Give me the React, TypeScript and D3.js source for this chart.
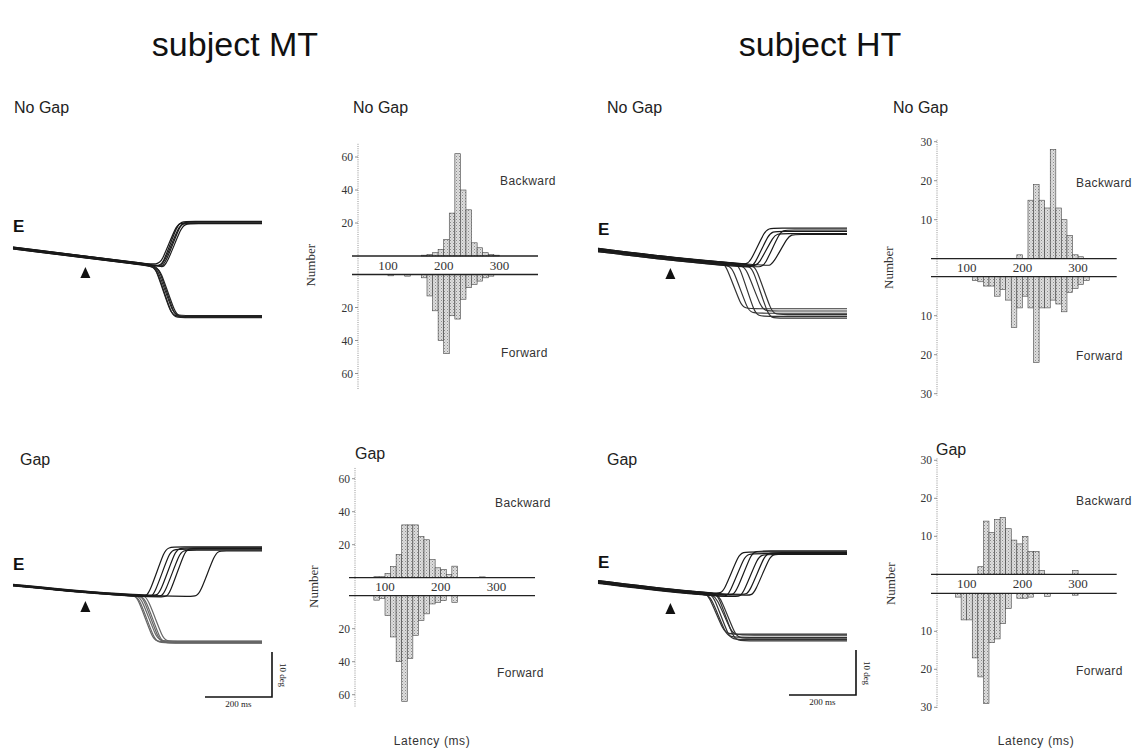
import React from "react";
import * as d3 from "d3";

// ---------- latency histograms: [bin start (ms), count], 10 ms bins ----------
const mtNoGapBackward: number[][] = [
  [160, 0.5], [170, 1], [180, 2], [190, 4], [200, 10], [210, 26], [220, 62],
  [230, 40], [240, 28], [250, 8], [260, 5], [270, 2], [280, 1], [290, 0.5],
];
const mtNoGapForward: number[][] = [
  [100, 0.8], [130, 1], [160, 2], [170, 13], [180, 22], [190, 40], [200, 48],
  [210, 25], [220, 27], [230, 15], [240, 8], [250, 6], [260, 4], [270, 2], [280, 1],
];
const htNoGapBackward: number[][] = [
  [190, 1], [210, 15], [220, 19], [230, 15], [240, 13], [250, 28], [260, 13],
  [270, 10], [280, 6], [290, 1], [300, 0.5],
];
const htNoGapForward: number[][] = [
  [110, 1], [120, 1.3], [130, 2.4], [140, 2.4], [150, 5], [160, 3.3], [170, 6],
  [180, 13], [190, 8], [200, 5], [210, 8], [220, 22], [230, 8], [240, 8],
  [250, 6], [260, 7], [270, 9], [280, 4], [290, 3], [300, 2], [310, 1],
];
const mtGapBackward: number[][] = [
  [80, 0.6], [90, 0.6], [100, 2.6], [110, 6.7], [120, 14], [130, 32], [140, 32],
  [150, 32], [160, 25], [170, 23], [180, 11], [190, 6], [200, 5], [210, 2],
  [220, 7], [270, 0.5],
];
const mtGapForward: number[][] = [
  [80, 2.7], [90, 1.7], [100, 12], [110, 25], [120, 40], [130, 64], [140, 38],
  [150, 24], [160, 15], [170, 11], [180, 5], [190, 4], [200, 3], [220, 4],
];
const htGapBackward: number[][] = [
  [120, 2], [130, 14], [140, 11], [150, 14.4], [160, 15], [170, 12], [180, 9],
  [190, 8], [200, 10], [210, 6], [220, 6], [230, 1], [290, 1],
];
const htGapForward: number[][] = [
  [80, 1], [90, 7], [100, 7], [110, 17], [120, 22], [130, 29], [140, 13],
  [150, 12], [160, 8], [170, 4], [190, 1.3], [200, 1.3], [210, 1], [240, 0.8], [290, 0.5],
];
const latencyTicks = [100, 200, 300];

// ---------- eye position traces ----------
// drift before the saccade: [time ms, position deg]
const mtNoGapDrift: number[][] = [[-216, 4.0], [215, 0], [527, -0.6]];
const mtGapDrift: number[][] = [[-216, 2.4], [-15, 0.9], [164, 0], [527, -0.2]];
const htNoGapDrift: number[][] = [[-216, 3.5], [27, 1.3], [266, -0.2], [527, -0.6]];
const htGapDrift: number[][] = [[-216, 2.9], [-24, 1.1], [146, 0], [527, -0.2]];
// trials: [latency ms, end position deg, offset deg]
const mtNoGapUp: number[][] = [[225, 9.6, 0.2], [229, 9.9, -0.2], [233, 9.5, 0.1], [237, 9.8, 0], [241, 9.4, -0.1]];
const mtNoGapDown: number[][] = [[208, -11.2, 0.2], [211, -11.5, -0.1], [214, -11.0, 0], [218, -11.4, 0.15], [222, -11.3, -0.2]];
const mtGapUp: number[][] = [[190, 10.9, 0.1], [205, 10.4, -0.1], [222, 10.7, 0.2], [235, 10.2, 0], [250, 10.6, -0.15], [340, 10.0, 0]];
const mtGapDown: number[][] = [[155, -10.2, 0.1], [160, -10.4, -0.1], [166, -10.0, 0], [172, -10.3, 0.15], [178, -10.5, -0.1], [185, -10.1, 0]];
const htNoGapUp: number[][] = [[236, 8.4, 0.3], [248, 7.7, -0.3], [262, 7.2, 0.1], [280, 8.0, -0.1], [305, 7.0, 0.4]];
const htNoGapDown: number[][] = [[165, -9.5, 0.2], [185, -10.5, -0.3], [205, -11.2, 0.4], [225, -10.0, -0.1], [245, -11.6, 0], [255, -10.8, 0.3]];
const htGapUp: number[][] = [[158, 9.6, 0.3], [175, 9.2, -0.2], [195, 9.8, 0.1], [215, 9.0, -0.3], [235, 9.4, 0.2], [250, 9.1, 0]];
const htGapDown: number[][] = [[113, -8.7, 0.2], [120, -9.4, -0.2], [128, -9.9, 0.1], [136, -8.9, -0.1], [142, -10.2, 0.3], [148, -9.6, 0]];

const SANS = "'Liberation Sans', Arial, Helvetica, sans-serif";
const SERIF = "'Liberation Serif', 'Times New Roman', serif";
const T_DOMAIN = [-216, 527];
const SACC = 48;
const ROUND = 14;

const tracePanels = [
  { x0: 13, y0: 266, drift: mtNoGapDrift, up: mtNoGapUp, down: mtNoGapDown, downColor: "#222", eY: 232, arrowY: 267, label: "No Gap", labelX: 14, labelY: 113 },
  { x0: 13, y0: 596, drift: mtGapDrift, up: mtGapUp, down: mtGapDown, downColor: "#666", eY: 570, arrowY: 601, label: "Gap", labelX: 20, labelY: 465, bar: { x: 272, y: 697 } },
  { x0: 598, y0: 266, drift: htNoGapDrift, up: htNoGapUp, down: htNoGapDown, downColor: "#333", eY: 235, arrowY: 268, label: "No Gap", labelX: 607, labelY: 113 },
  { x0: 598, y0: 595, drift: htGapDrift, up: htGapUp, down: htGapDown, downColor: "#333", eY: 568, arrowY: 603, label: "Gap", labelX: 607, labelY: 465, bar: { x: 856, y: 695 } },
];

const histPanels = [
  { id: "h1", axisX: 358, x100: 388, up0: 256, low0: 274.5, ppu: 1.65, ticks: [20, 40, 60], axTop: 68, axBot: 70, back: mtNoGapBackward, fwd: mtNoGapForward, label: "No Gap", labelX: 353, labelY: 113, backPos: [500, 185], fwdPos: [501, 357], numberX: 315 },
  { id: "h2", axisX: 937, x100: 966.7, up0: 258.7, low0: 276.7, ppu: 3.9, ticks: [10, 20, 30], axTop: 30.5, axBot: 30.5, back: htNoGapBackward, fwd: htNoGapForward, label: "No Gap", labelX: 893, labelY: 113, backPos: [1076, 187], fwdPos: [1076, 360], numberX: 893 },
  { id: "h3", axisX: 355, x100: 385, up0: 577.7, low0: 595.7, ppu: 1.65, ticks: [20, 40, 60], axTop: 66.5, axBot: 67.5, back: mtGapBackward, fwd: mtGapForward, label: "Gap", labelX: 355, labelY: 459, backPos: [495, 507], fwdPos: [497, 677], numberX: 318 },
  { id: "h4", axisX: 937, x100: 966.7, up0: 574.3, low0: 593.3, ppu: 3.8, ticks: [10, 20, 30], axTop: 30.5, axBot: 30.5, back: htGapBackward, fwd: htGapForward, label: "Gap", labelX: 936, labelY: 455, backPos: [1076, 505], fwdPos: [1076, 675], numberX: 895 },
];

function TracePanel({ p }: { p: any }) {
  const x = d3.scaleLinear().domain(T_DOMAIN).range([p.x0, p.x0 + 249]);
  const y = d3.scaleLinear().domain([0, 10]).range([p.y0, p.y0 - 45]);
  const drift = d3.scaleLinear().domain(p.drift.map((d: number[]) => d[0])).range(p.drift.map((d: number[]) => d[1]));
  const line = d3.line<number[]>().x((d) => x(d[0])).y((d) => y(d[1])).curve(d3.curveBasis);

  // follow the drift until the saccade latency, then jump to the end position
  const build = ([lat, end, off]: number[]) => {
    const pts = p.drift.filter((d: number[]) => d[0] < lat - ROUND).map((d: number[]) => [d[0], d[1] + off]);
    pts.push(
      [lat - ROUND, drift(lat - ROUND) + off],
      [lat, drift(lat) + off],
      [lat + SACC, end],
      [lat + SACC + ROUND, end],
      [T_DOMAIN[1], end]
    );
    return line(pts) as string;
  };

  const ax = x(0);
  const barW = x(200) - x(0);
  const barH = y(0) - y(10);
  return (
    <g>
      <text x={p.labelX} y={p.labelY} fontFamily={SANS} fontSize={16} fill="#222">{p.label}</text>
      <text x={p.x0} y={p.eY} fontFamily={SANS} fontSize={17} fontWeight="bold" fill="#111">E</text>
      {p.down.map((d: number[], i: number) => (
        <path key={"d" + i} d={build(d)} fill="none" stroke={p.downColor} strokeWidth={1.2} />
      ))}
      {p.up.map((d: number[], i: number) => (
        <path key={"u" + i} d={build(d)} fill="none" stroke="#1a1a1a" strokeWidth={1.2} />
      ))}
      <path d={`M${ax},${p.arrowY}L${ax + 5},${p.arrowY + 11}L${ax - 5},${p.arrowY + 11}Z`} fill="#111" />
      {p.bar && (
        <g>
          <path d={`M${p.bar.x - barW},${p.bar.y}H${p.bar.x}V${p.bar.y - barH}`} fill="none" stroke="#111" strokeWidth={1.6} />
          <text x={p.bar.x - barW / 2} y={p.bar.y + 10} textAnchor="middle" fontFamily={SERIF} fontSize={9} fill="#222">200 ms</text>
          <text transform={`translate(${p.bar.x + 8},${p.bar.y - 22}) rotate(90)`} textAnchor="middle" fontFamily={SERIF} fontSize={9} fill="#222">10 deg</text>
        </g>
      )}
    </g>
  );
}

function Histogram({ h }: { h: any }) {
  const x = d3.scaleLinear().domain([100, 300]).range([h.x100, h.x100 + 111.4]);
  const yUp = d3.scaleLinear().domain([0, 10]).range([h.up0, h.up0 - 10 * h.ppu]);
  const yLow = d3.scaleLinear().domain([0, 10]).range([h.low0, h.low0 + 10 * h.ppu]);
  const mid = (h.up0 + h.low0) / 2;
  const x0 = h.axisX - 6;
  const x1 = h.x100 + 150;
  return (
    <g>
      <text x={h.labelX} y={h.labelY} fontFamily={SANS} fontSize={16} fill="#222">{h.label}</text>
      <line x1={h.axisX} x2={h.axisX} y1={yUp(h.axTop)} y2={yLow(h.axBot)} stroke="#777" strokeWidth={0.8} strokeDasharray="1,1.2" />
      {h.ticks.map((t: number) => (
        <g key={t}>
          <line x1={h.axisX - 3} x2={h.axisX} y1={yUp(t)} y2={yUp(t)} stroke="#777" strokeWidth={0.8} />
          <line x1={h.axisX - 3} x2={h.axisX} y1={yLow(t)} y2={yLow(t)} stroke="#777" strokeWidth={0.8} />
          <text x={h.axisX - 5} y={yUp(t) + 4} textAnchor="end" fontFamily={SERIF} fontSize={11.5} fill="#333">{t}</text>
          <text x={h.axisX - 5} y={yLow(t) + 4} textAnchor="end" fontFamily={SERIF} fontSize={11.5} fill="#333">{t}</text>
        </g>
      ))}
      {h.back.map(([b, c]: number[]) => (
        <rect key={"b" + b} x={x(b)} width={x(b + 10) - x(b)} y={yUp(c)} height={yUp(0) - yUp(c)}
          fill="url(#stipple)" stroke="#444" strokeWidth={0.6} />
      ))}
      {h.fwd.map(([b, c]: number[]) => (
        <rect key={"f" + b} x={x(b)} width={x(b + 10) - x(b)} y={yLow(0)} height={yLow(c) - yLow(0)}
          fill="url(#stipple)" stroke="#444" strokeWidth={0.6} />
      ))}
      <line x1={x0} x2={x1} y1={h.up0} y2={h.up0} stroke="#222" strokeWidth={1.3} />
      <line x1={x0} x2={x1} y1={h.low0} y2={h.low0} stroke="#222" strokeWidth={1.3} />
      {latencyTicks.map((t) => (
        <text key={t} x={x(t)} y={mid + 4.5} textAnchor="middle" fontFamily={SERIF} fontSize={13} fill="#333">{t}</text>
      ))}
      <text transform={`translate(${h.numberX},${mid}) rotate(-90)`} textAnchor="middle" fontFamily={SERIF} fontSize={13} fill="#333">Number</text>
      <text x={h.backPos[0]} y={h.backPos[1]} fontFamily={SANS} fontSize={12} letterSpacing={0.4} fill="#333">Backward</text>
      <text x={h.fwdPos[0]} y={h.fwdPos[1]} fontFamily={SANS} fontSize={12} letterSpacing={0.4} fill="#333">Forward</text>
    </g>
  );
}

export default function App() {
  return (
    <svg width={1139} height={754} style={{ position: "absolute", left: 0, top: 0, display: "block", background: "#fff" }}>
      <defs>
        <pattern id="stipple" width={3} height={3} patternUnits="userSpaceOnUse">
          <rect width={3} height={3} fill="#dedede" />
          <rect x={0} y={0} width={1} height={1} fill="#8c8c8c" />
          <rect x={1.5} y={1.5} width={1} height={1} fill="#a8a8a8" />
        </pattern>
      </defs>
      <rect width={1139} height={754} fill="#fff" />
      <text x={235} y={56} textAnchor="middle" fontFamily={SANS} fontSize={34} fill="#111">subject MT</text>
      <text x={820} y={56} textAnchor="middle" fontFamily={SANS} fontSize={34} fill="#111">subject HT</text>
      {tracePanels.map((p, i) => <TracePanel key={i} p={p} />)}
      {histPanels.map((h) => <Histogram key={h.id} h={h} />)}
      <text x={432} y={745} textAnchor="middle" fontFamily={SANS} fontSize={12} letterSpacing={0.6} fill="#333">Latency (ms)</text>
      <text x={1036} y={745} textAnchor="middle" fontFamily={SANS} fontSize={12} letterSpacing={0.6} fill="#333">Latency (ms)</text>
    </svg>
  );
}
